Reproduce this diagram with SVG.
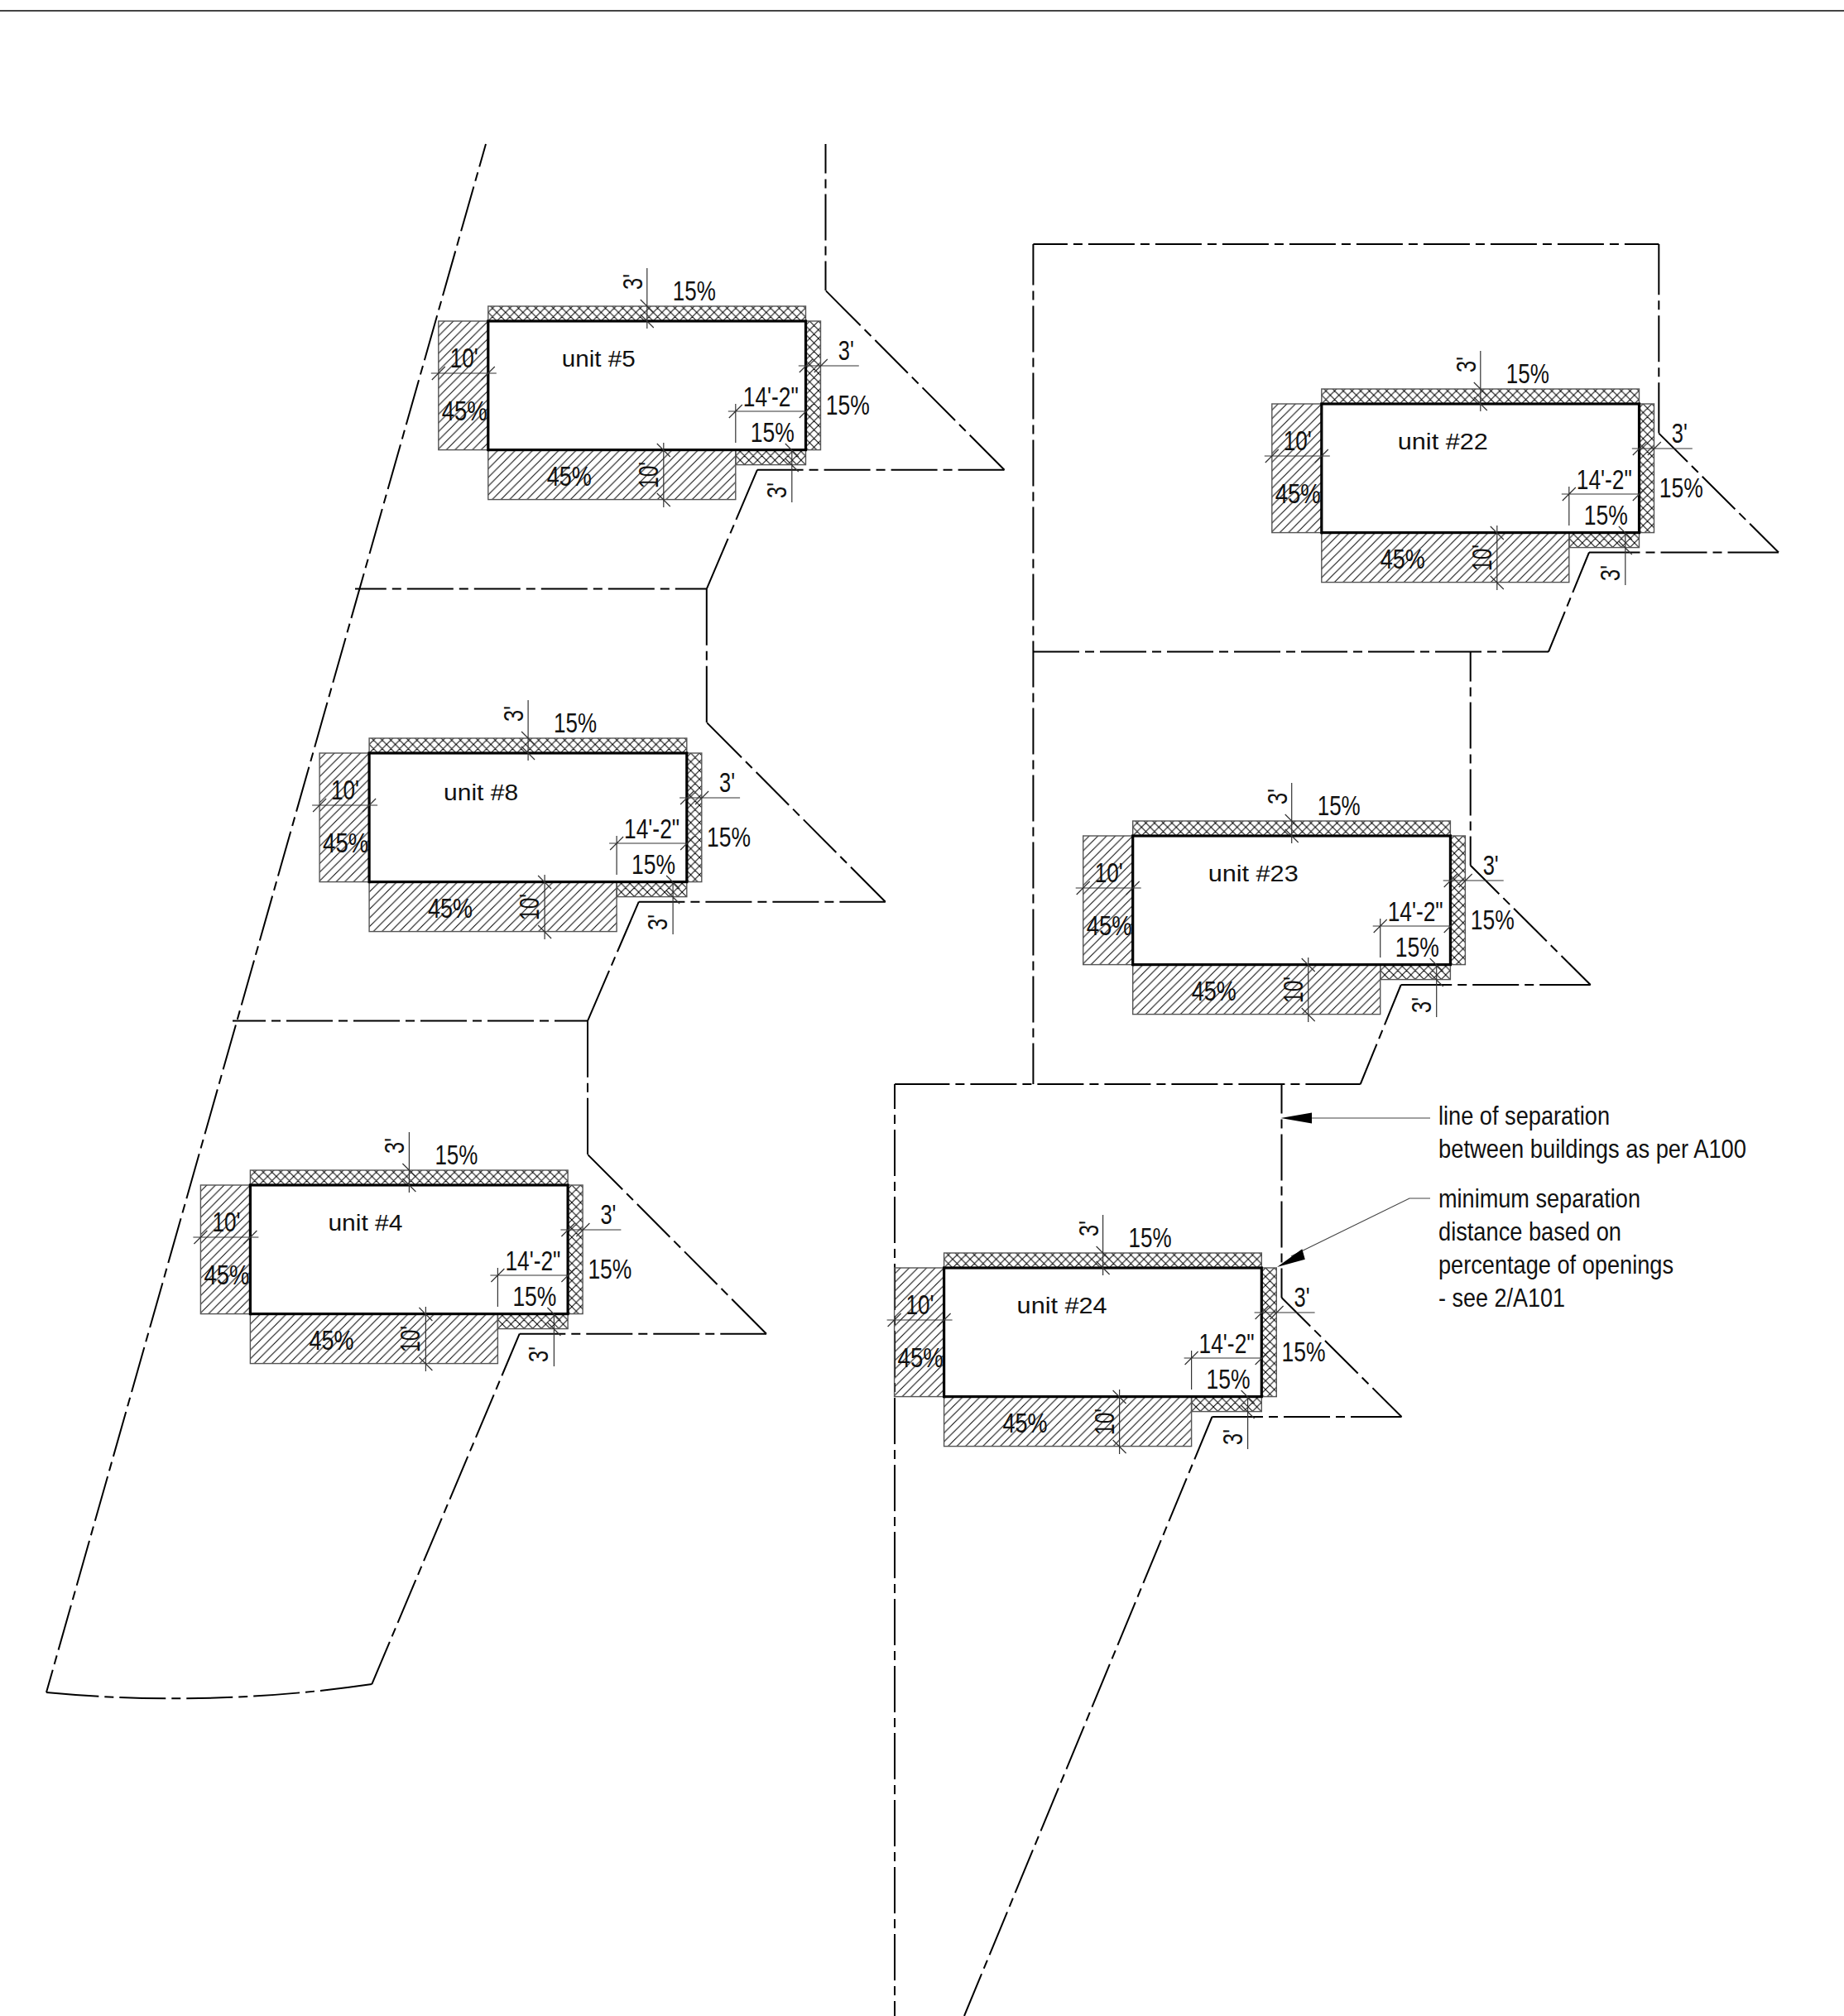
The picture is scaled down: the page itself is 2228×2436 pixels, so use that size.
<svg xmlns="http://www.w3.org/2000/svg" width="2228" height="2436" viewBox="0 0 2228 2436">
<style>
.b{fill:none;stroke:#000;stroke-width:2}
.d{stroke-dasharray:56 7 11 7}
.dim{fill:none;stroke:#333;stroke-width:1.2}
.edge{stroke:#555;stroke-width:1.4}
.wall{fill:none;stroke:#000;stroke-width:3.2}
.leader{fill:none;stroke:#444;stroke-width:1.2}
text{font-family:"Liberation Sans",Arial,sans-serif;fill:#111}
.t{font-size:33px}
.u{font-size:27px}
.n{font-size:32px}
</style>
<defs>
<pattern id="hatch" patternUnits="userSpaceOnUse" width="10.5" height="10.5"><path d="M-1 11.5L11.5-1M-1 1L1-1M9.5 11.5L11.5 9.5" stroke="#000" stroke-width="1" fill="none"/></pattern>
<pattern id="cross" patternUnits="userSpaceOnUse" width="10.5" height="10.5"><path d="M-1 11.5L11.5-1M-1 1L1-1M9.5 11.5L11.5 9.5M-1-1L11.5 11.5M-1 9.5L1 11.5M9.5-1L11.5 1" stroke="#000" stroke-width="1" fill="none"/></pattern>
<g id="unit-base">
<rect class="edge" x="0" y="-18" width="383.7" height="18" fill="url(#cross)"/>
<rect class="edge" x="383.7" y="0" width="18" height="155.6" fill="url(#cross)"/>
<rect class="edge" x="-60" y="0" width="60" height="155.6" fill="url(#hatch)"/>
<rect class="edge" x="0" y="155.6" width="299" height="60" fill="url(#hatch)"/>
<rect class="edge" x="299" y="155.6" width="84.7" height="18" fill="url(#cross)"/>
<rect class="wall" x="0" y="0" width="383.7" height="155.6"/>
<path class="dim" d="M192-64V9M184-26L200-10M184-8L200 8M-69 63H10M-68 71L-52 55M-8 71L8 55M375 54H448M376 62L392 46M394 62L410 46M290 109H384M291 117L307 101M376 117L392 101M299 100V147M367 156V219M359 148L375 164M359 166L375 182M212 147V225M204 148L220 164M204 208L220 224"/>
</g>
</defs>
<rect width="2228" height="2436" fill="#fff"/>
<path d="M0 13H2228" stroke="#444" stroke-width="2" fill="none"/>
<g id="connectors">
<path class="b d" stroke-dashoffset="27.5" d="M587 174L56 2045"/>
<path class="b" stroke-dasharray="63.5 7 11 7 56 7 11 7 56 7 11 7 56 7 11 7 63.5 999" d="M56 2045Q253 2063.6 449.3 2035"/>
<path class="b d" stroke-dashoffset="0.5" d="M449.3 2035L627.7 1611.7"/>
<path class="b d" stroke-dashoffset="0.4" d="M627.7 1611.7H926"/>
<path class="b" stroke-dasharray="59.2 7 11 7 56 7 11 7 56 7 11 7 59.2 999" d="M926 1611.7L710 1395"/>
<path class="b" stroke-dasharray="68.2 7 11 7 68.2 999" d="M710 1395V1233.6"/>
<path class="b d" stroke-dashoffset="16" d="M710 1233.6H281"/>
<path class="b" stroke-dasharray="66 7 11 7 66 999" d="M710 1233.6L771.8 1089.7"/>
<path class="b d" stroke-dashoffset="0.4" d="M771.8 1089.7H1069.8"/>
<path class="b" stroke-dasharray="59.2 7 11 7 56 7 11 7 56 7 11 7 59.2 999" d="M1069.8 1089.7L853.8 873"/>
<path class="b" stroke-dasharray="68.2 7 11 7 68.2 999" d="M853.8 873V711.6"/>
<path class="b d" stroke-dashoffset="18" d="M853.8 711.6H429"/>
<path class="b" stroke-dasharray="66 7 11 7 66 999" d="M853.8 711.6L915 567.7"/>
<path class="b d" stroke-dashoffset="0.4" d="M915 567.7H1213.5"/>
<path class="b" stroke-dasharray="59.2 7 11 7 56 7 11 7 56 7 11 7 59.2 999" d="M1213.5 567.7L997.5 351"/>
<path class="b d" stroke-dashoffset="20.5" d="M997.5 351V174"/>
<path class="b d" stroke-dashoffset="14.5" d="M1248.4 295H2004.3"/>
<path class="b d" stroke-dashoffset="6.5" d="M1248.4 295V1310"/>
<path class="b" stroke-dasharray="61.3 7 11 7 56 7 11 7 61.3 999" d="M2004.3 295V523.6"/>
<path class="b d" stroke-dashoffset="7.1" d="M2004.3 523.6L2149 667.5"/>
<path class="b" stroke-dasharray="61.5 7 11 7 56 7 11 7 61.5 999" d="M2149 667.5H1920"/>
<path class="b d" stroke-dashoffset="3.7" d="M1920 667.5L1871 787.5"/>
<path class="b d" d="M1871 787.5H1248.4"/>
<path class="b d" stroke-dashoffset="20.1" d="M1776.7 787.5V1045.7"/>
<path class="b d" stroke-dashoffset="7.1" d="M1776.7 1045.7L1921.7 1190"/>
<path class="b" stroke-dasharray="61.5 7 11 7 56 7 11 7 61.5 999" d="M1921.7 1190H1692.7"/>
<path class="b d" stroke-dashoffset="3.7" d="M1692.7 1190L1643.7 1310"/>
<path class="b" stroke-dasharray="66.3 7 11 7 56 7 11 7 56 7 11 7 56 7 11 7 56 7 11 7 56 7 11 7 66.3 999" d="M1643.7 1310H1081"/>
<path class="b d" stroke-dashoffset="20.5" d="M1548.5 1310V1568"/>
<path class="b d" stroke-dashoffset="7.1" d="M1548.5 1568L1693.5 1712"/>
<path class="b" stroke-dasharray="61.5 7 11 7 56 7 11 7 61.5 999" d="M1693.5 1712H1464.5"/>
<path class="b d" stroke-dashoffset="0.5" d="M1464.5 1712L1165 2436"/>
<path class="b d" stroke-dashoffset="26" d="M1081 1310V2436"/>
<path class="leader" d="M1585 1351H1728"/>
<polygon points="1547.5,1351 1585,1344.5 1585,1357.5" fill="#000"/>
<path class="leader" d="M1560 1518L1703 1448H1728"/>
<polygon points="1543,1531 1573.3,1509.3 1576.8,1521.7" fill="#000"/>
</g>
<g id="unit-5" transform="translate(589.8 388)"><use href="#unit-base"/>
<text class="t" transform="rotate(-90 186 -38)" x="186" y="-38" textLength="19" lengthAdjust="spacingAndGlyphs">3'</text>
<text class="t" x="223" y="-25" textLength="52" lengthAdjust="spacingAndGlyphs">15%</text>
<text class="t" x="-46" y="56" textLength="34" lengthAdjust="spacingAndGlyphs">10'</text>
<text class="t" x="-56" y="120" textLength="55" lengthAdjust="spacingAndGlyphs">45%</text>
<text class="u" x="89" y="55" textLength="89" lengthAdjust="spacingAndGlyphs">unit #5</text>
<text class="t" x="423" y="47" textLength="19" lengthAdjust="spacingAndGlyphs">3'</text>
<text class="t" x="408" y="113" textLength="53" lengthAdjust="spacingAndGlyphs">15%</text>
<text class="t" x="308" y="103" textLength="67" lengthAdjust="spacingAndGlyphs">14'-2"</text>
<text class="t" x="317" y="146" textLength="53" lengthAdjust="spacingAndGlyphs">15%</text>
<text class="t" x="71" y="199" textLength="54" lengthAdjust="spacingAndGlyphs">45%</text>
<text class="t" transform="rotate(-90 205 202)" x="205" y="202" textLength="32" lengthAdjust="spacingAndGlyphs">10'</text>
<text class="t" transform="rotate(-90 360 214)" x="360" y="214" textLength="19" lengthAdjust="spacingAndGlyphs">3'</text>
</g>
<g id="unit-8" transform="translate(446.1 910)"><use href="#unit-base"/>
<text class="t" transform="rotate(-90 186 -38)" x="186" y="-38" textLength="19" lengthAdjust="spacingAndGlyphs">3'</text>
<text class="t" x="223" y="-25" textLength="52" lengthAdjust="spacingAndGlyphs">15%</text>
<text class="t" x="-46" y="56" textLength="34" lengthAdjust="spacingAndGlyphs">10'</text>
<text class="t" x="-56" y="120" textLength="55" lengthAdjust="spacingAndGlyphs">45%</text>
<text class="u" x="90" y="57" textLength="90" lengthAdjust="spacingAndGlyphs">unit #8</text>
<text class="t" x="423" y="47" textLength="19" lengthAdjust="spacingAndGlyphs">3'</text>
<text class="t" x="408" y="113" textLength="53" lengthAdjust="spacingAndGlyphs">15%</text>
<text class="t" x="308" y="103" textLength="67" lengthAdjust="spacingAndGlyphs">14'-2"</text>
<text class="t" x="317" y="146" textLength="53" lengthAdjust="spacingAndGlyphs">15%</text>
<text class="t" x="71" y="199" textLength="54" lengthAdjust="spacingAndGlyphs">45%</text>
<text class="t" transform="rotate(-90 205 202)" x="205" y="202" textLength="32" lengthAdjust="spacingAndGlyphs">10'</text>
<text class="t" transform="rotate(-90 360 214)" x="360" y="214" textLength="19" lengthAdjust="spacingAndGlyphs">3'</text>
</g>
<g id="unit-4" transform="translate(302.4 1432)"><use href="#unit-base"/>
<text class="t" transform="rotate(-90 186 -38)" x="186" y="-38" textLength="19" lengthAdjust="spacingAndGlyphs">3'</text>
<text class="t" x="223" y="-25" textLength="52" lengthAdjust="spacingAndGlyphs">15%</text>
<text class="t" x="-46" y="56" textLength="34" lengthAdjust="spacingAndGlyphs">10'</text>
<text class="t" x="-56" y="120" textLength="55" lengthAdjust="spacingAndGlyphs">45%</text>
<text class="u" x="94" y="55" textLength="90" lengthAdjust="spacingAndGlyphs">unit #4</text>
<text class="t" x="423" y="47" textLength="19" lengthAdjust="spacingAndGlyphs">3'</text>
<text class="t" x="408" y="113" textLength="53" lengthAdjust="spacingAndGlyphs">15%</text>
<text class="t" x="308" y="103" textLength="67" lengthAdjust="spacingAndGlyphs">14'-2"</text>
<text class="t" x="317" y="146" textLength="53" lengthAdjust="spacingAndGlyphs">15%</text>
<text class="t" x="71" y="199" textLength="54" lengthAdjust="spacingAndGlyphs">45%</text>
<text class="t" transform="rotate(-90 205 202)" x="205" y="202" textLength="32" lengthAdjust="spacingAndGlyphs">10'</text>
<text class="t" transform="rotate(-90 360 214)" x="360" y="214" textLength="19" lengthAdjust="spacingAndGlyphs">3'</text>
</g>
<g id="unit-22" transform="translate(1596.8 488)"><use href="#unit-base"/>
<text class="t" transform="rotate(-90 186 -38)" x="186" y="-38" textLength="19" lengthAdjust="spacingAndGlyphs">3'</text>
<text class="t" x="223" y="-25" textLength="52" lengthAdjust="spacingAndGlyphs">15%</text>
<text class="t" x="-46" y="56" textLength="34" lengthAdjust="spacingAndGlyphs">10'</text>
<text class="t" x="-56" y="120" textLength="55" lengthAdjust="spacingAndGlyphs">45%</text>
<text class="u" x="92" y="55" textLength="109" lengthAdjust="spacingAndGlyphs">unit #22</text>
<text class="t" x="423" y="47" textLength="19" lengthAdjust="spacingAndGlyphs">3'</text>
<text class="t" x="408" y="113" textLength="53" lengthAdjust="spacingAndGlyphs">15%</text>
<text class="t" x="308" y="103" textLength="67" lengthAdjust="spacingAndGlyphs">14'-2"</text>
<text class="t" x="317" y="146" textLength="53" lengthAdjust="spacingAndGlyphs">15%</text>
<text class="t" x="71" y="199" textLength="54" lengthAdjust="spacingAndGlyphs">45%</text>
<text class="t" transform="rotate(-90 205 202)" x="205" y="202" textLength="32" lengthAdjust="spacingAndGlyphs">10'</text>
<text class="t" transform="rotate(-90 360 214)" x="360" y="214" textLength="19" lengthAdjust="spacingAndGlyphs">3'</text>
</g>
<g id="unit-23" transform="translate(1368.7 1010)"><use href="#unit-base"/>
<text class="t" transform="rotate(-90 186 -38)" x="186" y="-38" textLength="19" lengthAdjust="spacingAndGlyphs">3'</text>
<text class="t" x="223" y="-25" textLength="52" lengthAdjust="spacingAndGlyphs">15%</text>
<text class="t" x="-46" y="56" textLength="34" lengthAdjust="spacingAndGlyphs">10'</text>
<text class="t" x="-56" y="120" textLength="55" lengthAdjust="spacingAndGlyphs">45%</text>
<text class="u" x="91" y="55" textLength="109" lengthAdjust="spacingAndGlyphs">unit #23</text>
<text class="t" x="423" y="47" textLength="19" lengthAdjust="spacingAndGlyphs">3'</text>
<text class="t" x="408" y="113" textLength="53" lengthAdjust="spacingAndGlyphs">15%</text>
<text class="t" x="308" y="103" textLength="67" lengthAdjust="spacingAndGlyphs">14'-2"</text>
<text class="t" x="317" y="146" textLength="53" lengthAdjust="spacingAndGlyphs">15%</text>
<text class="t" x="71" y="199" textLength="54" lengthAdjust="spacingAndGlyphs">45%</text>
<text class="t" transform="rotate(-90 205 202)" x="205" y="202" textLength="32" lengthAdjust="spacingAndGlyphs">10'</text>
<text class="t" transform="rotate(-90 360 214)" x="360" y="214" textLength="19" lengthAdjust="spacingAndGlyphs">3'</text>
</g>
<g id="unit-24" transform="translate(1140.6 1532)"><use href="#unit-base"/>
<text class="t" transform="rotate(-90 186 -38)" x="186" y="-38" textLength="19" lengthAdjust="spacingAndGlyphs">3'</text>
<text class="t" x="223" y="-25" textLength="52" lengthAdjust="spacingAndGlyphs">15%</text>
<text class="t" x="-46" y="56" textLength="34" lengthAdjust="spacingAndGlyphs">10'</text>
<text class="t" x="-56" y="120" textLength="55" lengthAdjust="spacingAndGlyphs">45%</text>
<text class="u" x="88" y="55" textLength="109" lengthAdjust="spacingAndGlyphs">unit #24</text>
<text class="t" x="423" y="47" textLength="19" lengthAdjust="spacingAndGlyphs">3'</text>
<text class="t" x="408" y="113" textLength="53" lengthAdjust="spacingAndGlyphs">15%</text>
<text class="t" x="308" y="103" textLength="67" lengthAdjust="spacingAndGlyphs">14'-2"</text>
<text class="t" x="317" y="146" textLength="53" lengthAdjust="spacingAndGlyphs">15%</text>
<text class="t" x="71" y="199" textLength="54" lengthAdjust="spacingAndGlyphs">45%</text>
<text class="t" transform="rotate(-90 205 202)" x="205" y="202" textLength="32" lengthAdjust="spacingAndGlyphs">10'</text>
<text class="t" transform="rotate(-90 360 214)" x="360" y="214" textLength="19" lengthAdjust="spacingAndGlyphs">3'</text>
</g>
<g id="notes">
<text class="n" x="1738" y="1359" textLength="207" lengthAdjust="spacingAndGlyphs">line of separation</text>
<text class="n" x="1738" y="1399" textLength="372" lengthAdjust="spacingAndGlyphs">between buildings as per A100</text>
<text class="n" x="1738" y="1459" textLength="244" lengthAdjust="spacingAndGlyphs">minimum separation</text>
<text class="n" x="1738" y="1499" textLength="221" lengthAdjust="spacingAndGlyphs">distance based on</text>
<text class="n" x="1738" y="1539" textLength="284" lengthAdjust="spacingAndGlyphs">percentage of openings</text>
<text class="n" x="1738" y="1579" textLength="153" lengthAdjust="spacingAndGlyphs">- see 2/A101</text>
</g>
</svg>
